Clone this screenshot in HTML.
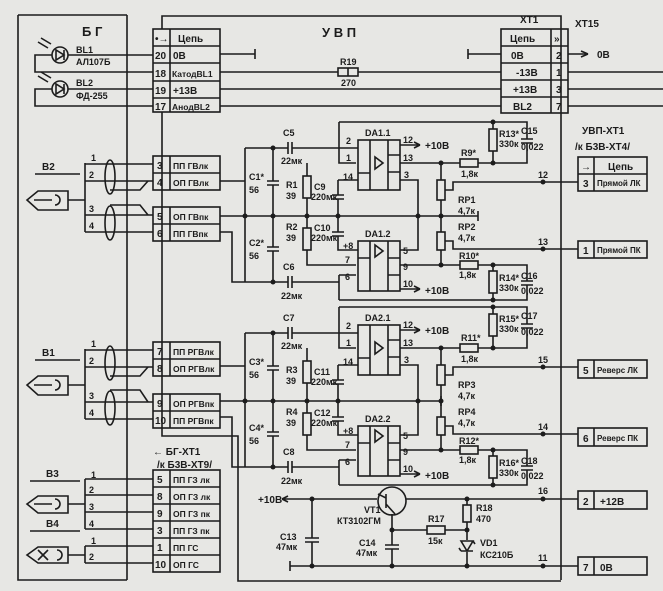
<!DOCTYPE html>
<html><head><meta charset="utf-8"><style>
html,body{margin:0;padding:0;background:#e7e7e4;}
svg{display:block}
text{font-family:"Liberation Sans Narrow","Liberation Sans","DejaVu Sans",sans-serif;font-weight:bold;fill:#1c1c1c}
</style></head><body>
<svg width="663" height="591" viewBox="0 0 663 591" xmlns="http://www.w3.org/2000/svg">
<rect width="663" height="591" fill="#e7e7e4"/>
<g stroke="#1c1c1c" stroke-width="1.6" fill="none">
<!-- BG frame -->
<path d="M18,15 H127 M18,15 V580 H127 M127,15 V580"/>
<!-- UVP frame -->
<path d="M162,29 V16 H561 V580 M162,112 V436 H238 V581 H561"/>
<!-- top table -->
<rect x="153" y="29" width="67" height="83"/>
<path d="M153,46 H220 M153,63 H220 M153,81 H220 M153,98 H220 M170,29 V112"/>
<!-- XT1 -->
<rect x="501" y="29" width="67" height="84"/>
<path d="M501,46 H568 M501,63 H568 M501,80 H568 M501,97 H568 M551,29 V113"/>
<!-- table lines -->
<path d="M220,54 H255 M255,49 V59 M468,54 H501 M468,49 V59"/>
<path d="M220,72 H338 M358,72 H501 M220,89 H501 M220,106 H501"/>
<rect x="338" y="68" width="20" height="8"/>
<path d="M348,68 V76"/>
<path d="M568,54 H588 M568,72 H663 M568,89 H663 M568,106 H663"/>
<path d="M588,54 L581,51 M588,54 L581,57"/>
<!-- diodes -->
<circle cx="60" cy="55" r="8"/><path d="M56,50 V60 L64,55 Z M64,50 V60"/>
<circle cx="60" cy="89" r="8"/><path d="M56,84 V94 L64,89 Z M64,84 V94"/>
<path d="M68,55 H153 M52,55 H35 V72 H153 M68,89 H153 M52,89 H35 V106 H153"/>
<path d="M38,42 L48,48 M41,38 L51,44 M38,76 L48,82 M41,72 L51,78"/>

<!-- B2 group -->
<rect x="153" y="156" width="67" height="34"/><rect x="153" y="207" width="67" height="34"/>
<path d="M153,173 H220 M153,224 H220 M170,156 V190 M170,207 V241"/>
<path d="M35,174 H80 M85,163 V232 M85,164 H153 M85,181 H153 M85,215 H153 M85,232 H153 M68,200 H85"/>
<path d="M110,190 L140,190 L148,181 M110,205 L140,205 L148,215"/>
<ellipse cx="110" cy="177" rx="5" ry="17"/><ellipse cx="110" cy="223" rx="5" ry="17"/>
<path d="M68,191 H38 L27,200 L38,210 H68 Z M34,200 H52 M55,195 A5,5 0 1 1 55,205"/>
<!-- B1 group -->
<rect x="153" y="342" width="67" height="34"/><rect x="153" y="394" width="67" height="34"/>
<path d="M153,359 H220 M153,411 H220 M170,342 V376 M170,394 V428"/>
<path d="M35,360 H80 M85,349 V419 M85,350 H153 M85,367 H153 M85,402 H153 M85,419 H153 M68,385 H85"/>
<path d="M110,376 L140,376 L148,367 M110,390 L140,390 L148,402"/>
<ellipse cx="110" cy="363" rx="5" ry="17"/><ellipse cx="110" cy="408" rx="5" ry="17"/>
<path d="M68,376 H38 L27,385 L38,395 H68 Z M34,385 H52 M55,380 A5,5 0 1 1 55,390"/>
<!-- bottom table -->
<rect x="153" y="470" width="67" height="102"/>
<path d="M153,487 H220 M153,504 H220 M153,521 H220 M153,538 H220 M153,555 H220 M170,470 V572"/>
<path d="M30,481 H80 M85,479 V529 M85,479 H153 M85,495 H153 M85,512 H153 M85,529 H153 M68,504 H85"/>
<path d="M68,496 H38 L27,504 L38,513 H68 Z M34,504 H52 M55,499 A5,5 0 1 1 55,509"/>
<path d="M30,531 H80 M85,546 V563 M85,546 H153 M85,563 H153 M68,555 H85"/>
<path d="M68,547 H38 L27,555 L38,563 H68 Z M38,550 L48,560 M48,550 L38,560 M57,550 A5,5 0 1 1 57,560"/>

<!-- right tables -->
<rect x="578" y="157" width="69" height="34"/><path d="M578,174 H647 M594,157 V191"/>
<rect x="578" y="241" width="69" height="17"/><path d="M594,241 V258"/>
<rect x="578" y="360" width="69" height="18"/><path d="M594,360 V378"/>
<rect x="578" y="428" width="69" height="18"/><path d="M594,428 V446"/>
<rect x="578" y="491" width="69" height="18"/><path d="M594,491 V509"/>
<rect x="578" y="557" width="69" height="18"/><path d="M594,557 V575"/>
</g>

<!-- channel template drawn twice -->
<g id="ch1" stroke="#1c1c1c" stroke-width="1.6" fill="none">
<path d="M220,181 H245 M220,232 H232 V282 H245 M245,148 V282 M245,148 H288 M292,148 H358 M245,282 H288 M292,282 H339"/>
<path d="M288,142 V154 M292,142 V154 M288,276 V288 M292,276 V288"/>
<path d="M273,148 V181 M267,181 H279 M267,185 H279 M273,185 V216 M273,216 V247 M267,247 H279 M267,251 H279 M273,251 V282"/>
<path d="M220,216 H478 M478,211 V221"/>
<path d="M307,163 V176 M307,198 V228 M307,250 V265 H356"/>
<rect x="303" y="176" width="8" height="22"/><rect x="303" y="228" width="8" height="22"/>
<path d="M339,122 V163 H356 M339,275 V300 M339,275 H356"/>
<path d="M338,180 H358 M338,180 V195 M332,195 H344 M332,199 H344 M338,199 V216"/>
<path d="M338,216 V232 M332,232 H344 M332,236 H344 M338,236 V250 H358"/>
<rect x="358" y="140" width="42" height="50"/><path d="M370,140 V190 M388,140 V190 M358,173 H370 M388,155 H400 M388,172 H400"/>
<path d="M375,157 V169 L383,163 Z"/>
<rect x="358" y="241" width="42" height="50"/><path d="M370,241 V291 M388,241 V291 M358,258 H370 M388,258 H400 M388,275 H400"/>
<path d="M375,245 V257 L383,251 Z"/>
<path d="M400,145 H420 M420,145 L414,142 M420,145 L414,148 M400,289 H420 M420,289 L414,286 M420,289 L414,292"/>
<path d="M400,180 H418 V250 H400"/>
<path d="M400,163 H460 M478,163 H527 V143 M527,139 V122 H339 M521,139 H533 M521,143 H533"/>
<rect x="460" y="159" width="18" height="8"/>
<path d="M493,122 V129 M493,151 V163"/><rect x="489" y="129" width="8" height="22"/>
<path d="M441,163 V180 M441,200 V232 M441,250 V265"/><rect x="437" y="180" width="8" height="20"/><rect x="437" y="232" width="8" height="18"/>
<path d="M445,190 H453 V182 H578 M445,241 H453 V249 H578"/>
<path d="M400,265 H460 M478,265 H527 V281 M527,285 V300 H339 M521,281 H533 M521,285 H533"/>
<rect x="460" y="261" width="18" height="8"/>
<path d="M493,265 V271 M493,293 V300"/><rect x="489" y="271" width="8" height="22"/>
</g>
<g transform="translate(0,185)" stroke="#1c1c1c" stroke-width="1.6" fill="none">
<path d="M220,181 H245 M220,232 H232 V282 H245 M245,148 V282 M245,148 H288 M292,148 H358 M245,282 H288 M292,282 H339"/>
<path d="M288,142 V154 M292,142 V154 M288,276 V288 M292,276 V288"/>
<path d="M273,148 V181 M267,181 H279 M267,185 H279 M273,185 V216 M273,216 V247 M267,247 H279 M267,251 H279 M273,251 V282"/>
<path d="M220,216 H441 M441,211 V221"/>
<path d="M307,163 V176 M307,198 V228 M307,250 V265 H356"/>
<rect x="303" y="176" width="8" height="22"/><rect x="303" y="228" width="8" height="22"/>
<path d="M339,122 V163 H356 M339,275 V300 M339,275 H356"/>
<path d="M338,180 H358 M338,180 V195 M332,195 H344 M332,199 H344 M338,199 V216"/>
<path d="M338,216 V232 M332,232 H344 M332,236 H344 M338,236 V250 H358"/>
<rect x="358" y="140" width="42" height="50"/><path d="M370,140 V190 M388,140 V190 M358,173 H370 M388,155 H400 M388,172 H400"/>
<path d="M375,157 V169 L383,163 Z"/>
<rect x="358" y="241" width="42" height="50"/><path d="M370,241 V291 M388,241 V291 M358,258 H370 M388,258 H400 M388,275 H400"/>
<path d="M375,245 V257 L383,251 Z"/>
<path d="M400,145 H420 M420,145 L414,142 M420,145 L414,148 M400,289 H420 M420,289 L414,286 M420,289 L414,292"/>
<path d="M400,180 H418 V250 H400"/>
<path d="M400,163 H460 M478,163 H527 V143 M527,139 V122 H339 M521,139 H533 M521,143 H533"/>
<rect x="460" y="159" width="18" height="8"/>
<path d="M493,122 V129 M493,151 V163"/><rect x="489" y="129" width="8" height="22"/>
<path d="M441,163 V180 M441,200 V232 M441,250 V265"/><rect x="437" y="180" width="8" height="20"/><rect x="437" y="232" width="8" height="18"/>
<path d="M445,190 H453 V182 H578 M445,241 H453 V249 H578"/>
<path d="M400,265 H460 M478,265 H527 V281 M527,285 V300 H339 M521,281 H533 M521,285 H533"/>
<rect x="460" y="261" width="18" height="8"/>
<path d="M493,265 V271 M493,293 V300"/><rect x="489" y="271" width="8" height="22"/>
</g>
<!-- nodes -->
<g fill="#1c1c1c">
<circle cx="273" cy="148" r="2.5"/><circle cx="273" cy="216" r="2.5"/><circle cx="273" cy="282" r="2.5"/><circle cx="245" cy="216" r="2.5"/>
<circle cx="307" cy="216" r="2.5"/><circle cx="338" cy="216" r="2.5"/><circle cx="418" cy="216" r="2.5"/><circle cx="441" cy="216" r="2.5"/>
<circle cx="441" cy="163" r="2.5"/><circle cx="441" cy="265" r="2.5"/><circle cx="493" cy="122" r="2.5"/><circle cx="493" cy="163" r="2.5"/><circle cx="493" cy="265" r="2.5"/><circle cx="493" cy="300" r="2.5"/>
<circle cx="543" cy="182" r="2.5"/><circle cx="543" cy="249" r="2.5"/>
<circle cx="273" cy="333" r="2.5"/><circle cx="273" cy="401" r="2.5"/><circle cx="273" cy="467" r="2.5"/><circle cx="245" cy="401" r="2.5"/>
<circle cx="307" cy="401" r="2.5"/><circle cx="338" cy="401" r="2.5"/><circle cx="418" cy="401" r="2.5"/><circle cx="441" cy="401" r="2.5"/>
<circle cx="441" cy="348" r="2.5"/><circle cx="441" cy="450" r="2.5"/><circle cx="493" cy="307" r="2.5"/><circle cx="493" cy="348" r="2.5"/><circle cx="493" cy="450" r="2.5"/><circle cx="493" cy="485" r="2.5"/>
<circle cx="543" cy="367" r="2.5"/><circle cx="543" cy="434" r="2.5"/>
<circle cx="312" cy="499" r="2.5"/><circle cx="312" cy="566" r="2.5"/><circle cx="392" cy="530" r="2.5"/><circle cx="392" cy="566" r="2.5"/>
<circle cx="467" cy="499" r="2.5"/><circle cx="467" cy="530" r="2.5"/><circle cx="467" cy="566" r="2.5"/><circle cx="543" cy="499" r="2.5"/><circle cx="543" cy="566" r="2.5"/>
</g>
<!-- bottom power section -->
<g stroke="#1c1c1c" stroke-width="1.6" fill="none">
<path d="M282,499 H377 M282,499 L288,496 M282,499 L288,502 M406,499 H578"/>
<circle cx="392" cy="501" r="14"/>
<path d="M386,494 V508 M386,498 L378,494 M386,504 L395,514"/>
<path d="M312,499 V538 M305,538 H319 M305,542 H319 M312,542 V566 M290,566 H578 M290,561 V571"/>
<path d="M392,514 V545 M385,545 H399 M385,549 H399 M392,549 V566"/>
<path d="M392,530 H427 M445,530 H467"/><rect x="427" y="526" width="18" height="8"/>
<path d="M467,499 V505 M467,522 V540 M467,552 V566"/><rect x="463" y="505" width="8" height="17"/>
<path d="M461,541 H473 L467,551 Z M461,551 H473 M461,551 L459,548 M473,541 L475,544"/>
</g>

<!-- TEXT -->
<g font-size="10">
<text x="82" y="36" font-size="13">Б Г</text>
<text x="322" y="37" font-size="13">У В П</text>
<text x="76" y="53" font-size="9">BL1</text><text x="76" y="65" font-size="9">АЛ107Б</text>
<text x="76" y="86" font-size="9">BL2</text><text x="76" y="99" font-size="9">ФД-255</text>
<text x="155" y="42">•→</text><text x="178" y="42">Цепь</text>
<text x="155" y="59">20</text><text x="173" y="59">0В</text>
<text x="155" y="77">18</text><text x="172" y="77" font-size="8.5">КатодBL1</text>
<text x="155" y="94">19</text><text x="173" y="94">+13В</text>
<text x="155" y="110">17</text><text x="172" y="110" font-size="8.5">АнодBL2</text>
<text x="340" y="65" font-size="9">R19</text><text x="341" y="86" font-size="9">270</text>
<text x="520" y="23">XT1</text><text x="575" y="27">XT15</text>
<text x="510" y="42">Цепь</text><text x="554" y="42">»</text>
<text x="511" y="59">0В</text><text x="556" y="59">2</text>
<text x="516" y="76">-13В</text><text x="556" y="76">1</text>
<text x="513" y="93">+13В</text><text x="556" y="93">3</text>
<text x="513" y="110">BL2</text><text x="556" y="110">7</text>
<text x="597" y="58">0В</text>

<text x="42" y="170">B2</text>
<text x="91" y="161" font-size="9">1</text><text x="89" y="178" font-size="9">2</text><text x="89" y="212" font-size="9">3</text><text x="89" y="229" font-size="9">4</text>
<text x="157" y="169">3</text><text x="173" y="169" font-size="8.5">ПП ГВлк</text>
<text x="157" y="186">4</text><text x="173" y="186" font-size="8.5">ОП ГВлк</text>
<text x="157" y="220">5</text><text x="173" y="220" font-size="8.5">ОП ГВпк</text>
<text x="157" y="237">6</text><text x="173" y="237" font-size="8.5">ПП ГВпк</text>

<text x="42" y="356">B1</text>
<text x="91" y="347" font-size="9">1</text><text x="89" y="364" font-size="9">2</text><text x="89" y="399" font-size="9">3</text><text x="89" y="416" font-size="9">4</text>
<text x="157" y="355">7</text><text x="173" y="355" font-size="8.5">ПП РГВлк</text>
<text x="157" y="372">8</text><text x="173" y="372" font-size="8.5">ОП РГВлк</text>
<text x="157" y="407">9</text><text x="173" y="407" font-size="8.5">ОП РГВпк</text>
<text x="155" y="424">10</text><text x="173" y="424" font-size="8.5">ПП РГВпк</text>

<text x="153" y="455">← БГ-XT1</text><text x="157" y="468">/к Б3В-XT9/</text>
<text x="46" y="477">B3</text><text x="46" y="527">B4</text>
<text x="91" y="478" font-size="9">1</text><text x="89" y="493" font-size="9">2</text><text x="89" y="510" font-size="9">3</text><text x="89" y="527" font-size="9">4</text>
<text x="91" y="544" font-size="9">1</text><text x="89" y="560" font-size="9">2</text>
<text x="157" y="483">5</text><text x="173" y="483" font-size="8.5">ПП ГЗ лк</text>
<text x="157" y="500">8</text><text x="173" y="500" font-size="8.5">ОП ГЗ лк</text>
<text x="157" y="517">9</text><text x="173" y="517" font-size="8.5">ОП ГЗ пк</text>
<text x="157" y="534">3</text><text x="173" y="534" font-size="8.5">ПП ГЗ пк</text>
<text x="157" y="551">1</text><text x="173" y="551" font-size="8.5">ПП ГС</text>
<text x="155" y="568">10</text><text x="173" y="568" font-size="8.5">ОП ГС</text>

<g font-size="9">
<text x="283" y="136">C5</text><text x="281" y="164">22мк</text>
<text x="249" y="180">C1*</text><text x="249" y="193">56</text>
<text x="286" y="188">R1</text><text x="286" y="199">39</text><text x="314" y="190">C9</text><text x="311" y="200">220мк</text>
<text x="249" y="246">C2*</text><text x="249" y="259">56</text>
<text x="286" y="230">R2</text><text x="286" y="241">39</text><text x="314" y="231">C10</text><text x="311" y="241">220мк</text>
<text x="283" y="270">C6</text><text x="281" y="299">22мк</text>
<text x="365" y="136">DA1.1</text><text x="365" y="237">DA1.2</text>
<text x="346" y="144">2</text><text x="346" y="161">1</text><text x="343" y="180">14</text><text x="343" y="249">+8</text><text x="345" y="263">7</text><text x="345" y="280">6</text>
<text x="403" y="143">12</text><text x="425" y="149" font-size="10">+10В</text><text x="403" y="161">13</text><text x="404" y="178">3</text>
<text x="403" y="254">5</text><text x="403" y="270">9</text><text x="403" y="287">10</text><text x="425" y="294" font-size="10">+10В</text>
<text x="461" y="156">R9*</text><text x="461" y="177">1,8к</text>
<text x="499" y="137">R13*</text><text x="499" y="147">330к</text><text x="521" y="134">C15</text><text x="521" y="150">0,022</text>
<text x="458" y="203">RP1</text><text x="458" y="214">4,7к</text>
<text x="458" y="230">RP2</text><text x="458" y="241">4,7к</text>
<text x="459" y="259">R10*</text><text x="459" y="278">1,8к</text>
<text x="499" y="281">R14*</text><text x="499" y="291">330к</text><text x="521" y="279">C16</text><text x="521" y="294">0,022</text>
<text x="538" y="178">12</text><text x="538" y="245">13</text>

<text x="283" y="321">C7</text><text x="281" y="349">22мк</text>
<text x="249" y="365">C3*</text><text x="249" y="378">56</text>
<text x="286" y="373">R3</text><text x="286" y="384">39</text><text x="314" y="375">C11</text><text x="311" y="385">220мк</text>
<text x="249" y="431">C4*</text><text x="249" y="444">56</text>
<text x="286" y="415">R4</text><text x="286" y="426">39</text><text x="314" y="416">C12</text><text x="311" y="426">220мк</text>
<text x="283" y="455">C8</text><text x="281" y="484">22мк</text>
<text x="365" y="321">DA2.1</text><text x="365" y="422">DA2.2</text>
<text x="346" y="329">2</text><text x="346" y="346">1</text><text x="343" y="365">14</text><text x="343" y="434">+8</text><text x="345" y="448">7</text><text x="345" y="465">6</text>
<text x="403" y="328">12</text><text x="425" y="334" font-size="10">+10В</text><text x="403" y="346">13</text><text x="404" y="363">3</text>
<text x="403" y="439">5</text><text x="403" y="455">9</text><text x="403" y="472">10</text><text x="425" y="479" font-size="10">+10В</text>
<text x="461" y="341">R11*</text><text x="461" y="362">1,8к</text>
<text x="499" y="322">R15*</text><text x="499" y="332">330к</text><text x="521" y="319">C17</text><text x="521" y="335">0,022</text>
<text x="458" y="388">RP3</text><text x="458" y="399">4,7к</text>
<text x="458" y="415">RP4</text><text x="458" y="426">4,7к</text>
<text x="459" y="444">R12*</text><text x="459" y="463">1,8к</text>
<text x="499" y="466">R16*</text><text x="499" y="476">330к</text><text x="521" y="464">C18</text><text x="521" y="479">0,022</text>
<text x="538" y="363">15</text><text x="538" y="430">14</text>
<text x="538" y="494">16</text><text x="538" y="561">11</text>
<text x="258" y="503" font-size="10">+10В</text>
<text x="280" y="540">C13</text><text x="276" y="550">47мк</text>
<text x="364" y="513">VT1</text><text x="337" y="524">КТ3102ГМ</text>
<text x="359" y="546">C14</text><text x="356" y="556">47мк</text>
<text x="428" y="522">R17</text><text x="428" y="544">15к</text>
<text x="476" y="511">R18</text><text x="476" y="522">470</text>
<text x="480" y="546">VD1</text><text x="480" y="558">КС210Б</text>
</g>

<text x="582" y="134">УВП-XT1</text><text x="575" y="150">/к Б3В-XT4/</text>
<text x="581" y="170">→</text><text x="608" y="170">Цепь</text>
<text x="583" y="187">3</text><text x="597" y="186" font-size="8">Прямой ЛК</text>
<text x="583" y="254">1</text><text x="597" y="253" font-size="8">Прямой ПК</text>
<text x="583" y="374">5</text><text x="597" y="373" font-size="8">Реверс ЛК</text>
<text x="583" y="442">6</text><text x="597" y="441" font-size="8">Реверс ПК</text>
<text x="583" y="505">2</text><text x="600" y="505">+12В</text>
<text x="583" y="571">7</text><text x="600" y="571">0В</text>
</g>
</svg>
</body></html>
